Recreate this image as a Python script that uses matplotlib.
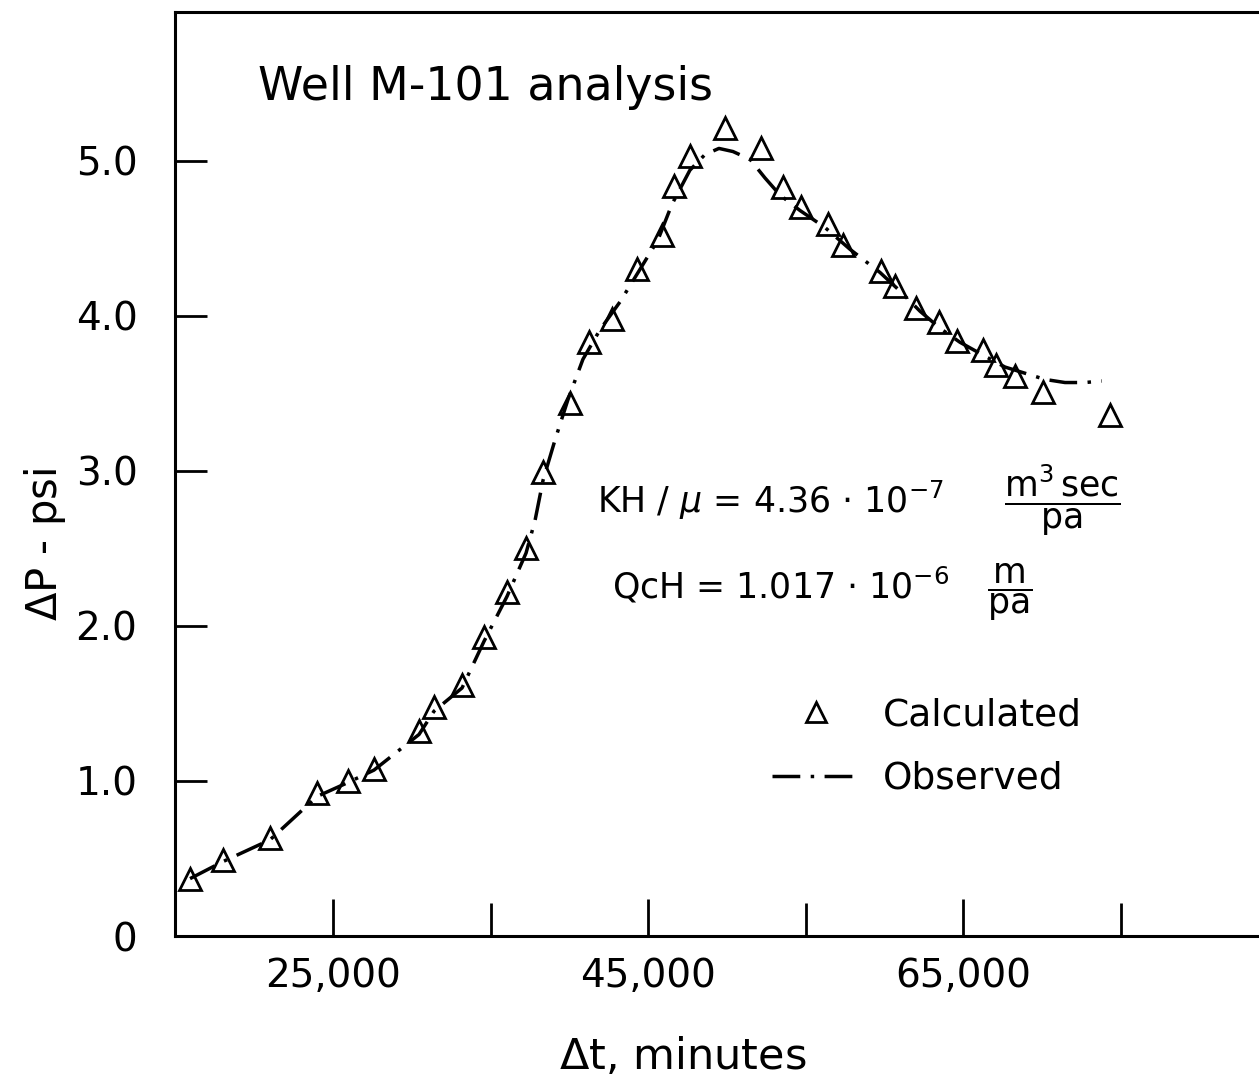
import matplotlib
matplotlib.use("Agg")
from matplotlib import pyplot as plt

plt.rcParams['font.family'] = ['DejaVu Sans']
plt.rcParams['mathtext.fontset'] = 'dejavusans'

# calculated points (open triangles)
calc_t = [15930, 18020, 21000, 23990, 25950, 27600, 30460, 31410, 33190, 34580,
          36040, 37250, 38330, 40040, 41240, 42700, 44290, 45880, 46640, 47650,
          49870, 52130, 53550, 54700, 56380, 57360, 59800, 60660, 61990, 63450,
          64590, 66240, 67100, 68270, 70050, 74300]
calc_dp = [0.37, 0.49, 0.63, 0.92, 1.00, 1.08, 1.32, 1.48, 1.62, 1.93,
           2.22, 2.50, 2.99, 3.44, 3.83, 3.98, 4.30, 4.52, 4.84, 5.03,
           5.21, 5.08, 4.83, 4.70, 4.59, 4.46, 4.29, 4.19, 4.05, 3.96,
           3.84, 3.78, 3.68, 3.61, 3.51, 3.36]

# observed curve (dash-dot)
obs_t = [15930, 18020, 21000, 23990, 25950, 27600, 30460, 31410, 33190, 34580,
         36040, 37250, 37820, 38330, 39090, 39910, 40860, 41940, 43210, 44480,
         45620, 46510, 47650, 48600, 49490, 50380, 51460, 52410, 53360, 54630,
         56220, 57800, 59710, 60980, 62250, 63520, 64780, 66370, 67640, 68910,
         70180, 71450, 72720, 73790]
obs_dp = [0.37, 0.48, 0.62, 0.90, 0.99, 1.07, 1.30, 1.45, 1.60, 1.90,
          2.19, 2.47, 2.68, 2.94, 3.20, 3.46, 3.72, 3.91, 4.09, 4.30,
          4.49, 4.72, 4.94, 5.04, 5.08, 5.06, 5.01, 4.89, 4.78, 4.68,
          4.57, 4.43, 4.28, 4.16, 4.03, 3.92, 3.83, 3.74, 3.67, 3.63,
          3.59, 3.57, 3.57, 3.58]

x_major = [25000, 45000, 65000]
x_major_labels = ['25,000', '45,000', '65,000']
x_minor = [35000, 55000, 75000]
y_ticks = [0, 1, 2, 3, 4, 5]
y_labels = ['0', '1.0', '2.0', '3.0', '4.0', '5.0']

W, H = 1259, 1085
fig = plt.figure(figsize=(W / 100, H / 100), dpi=100)
ax = fig.add_axes([175 / W, 149 / H, 1 - 175 / W, 924 / H])

ax.plot(obs_t, obs_dp, color='black', lw=2.5, linestyle=(0, (8, 3, 1, 3)),
        label='Observed', zorder=2)
ax.plot(calc_t, calc_dp, linestyle='none', marker='^', ms=16, mfc='none',
        mec='black', mew=2, label='Calculated', zorder=3)

ax.set_xlim(14975, 83760)
ax.set_ylim(0, 5.96)

for side in ['top', 'left', 'bottom']:
    ax.spines[side].set_linewidth(2.2)
ax.spines['right'].set_visible(False)

ax.set_xticks(x_major)
ax.set_xticklabels(x_major_labels)
ax.set_xticks(x_minor, minor=True)
ax.tick_params(axis='x', which='major', direction='in', length=27, width=2,
               pad=15, labelsize=28)
ax.tick_params(axis='x', which='minor', direction='in', length=24, width=2)
ax.set_yticks(y_ticks)
ax.set_yticklabels(y_labels)
ax.tick_params(axis='y', direction='in', length=23, width=2, pad=27,
               labelsize=28)

fig.text(683 / W, 1 - 1057 / H, r'$\Delta$t, minutes', fontsize=31,
         ha='center', va='center')
fig.text(45 / W, 1 - 545 / H, r'$\Delta$P - psi', fontsize=30,
         rotation=90, ha='center', va='center')

fig.text(258 / W, 1 - 88 / H, 'Well M-101 analysis', fontsize=33,
         ha='left', va='center')

fig.text(597 / W, 1 - 500 / H, r'KH / $\mu$ = 4.36 $\cdot$ 10$^{-7}$',
         fontsize=25, ha='left', va='center')
fig.text(1062 / W, 1 - 500 / H, r'$\dfrac{\mathrm{m^3\,sec}}{\mathrm{pa}}$',
         fontsize=25, ha='center', va='center')
fig.text(612 / W, 1 - 585 / H, r'QcH = 1.017 $\cdot$ 10$^{-6}$',
         fontsize=25, ha='left', va='center')
fig.text(1010 / W, 1 - 592 / H, r'$\dfrac{\mathrm{m}}{\mathrm{pa}}$',
         fontsize=25, ha='center', va='center')

handles, labels = ax.get_legend_handles_labels()
ax.legend(handles[::-1], labels[::-1], loc='upper left',
          bbox_to_anchor=(772 / W, 1 - 697 / H), bbox_transform=fig.transFigure,
          frameon=False, fontsize=27, handlelength=2.35, handletextpad=0.6,
          labelspacing=0.74, borderpad=0, borderaxespad=0, numpoints=1,
          markerscale=0.9)

fig.savefig('out.png', dpi=100)
